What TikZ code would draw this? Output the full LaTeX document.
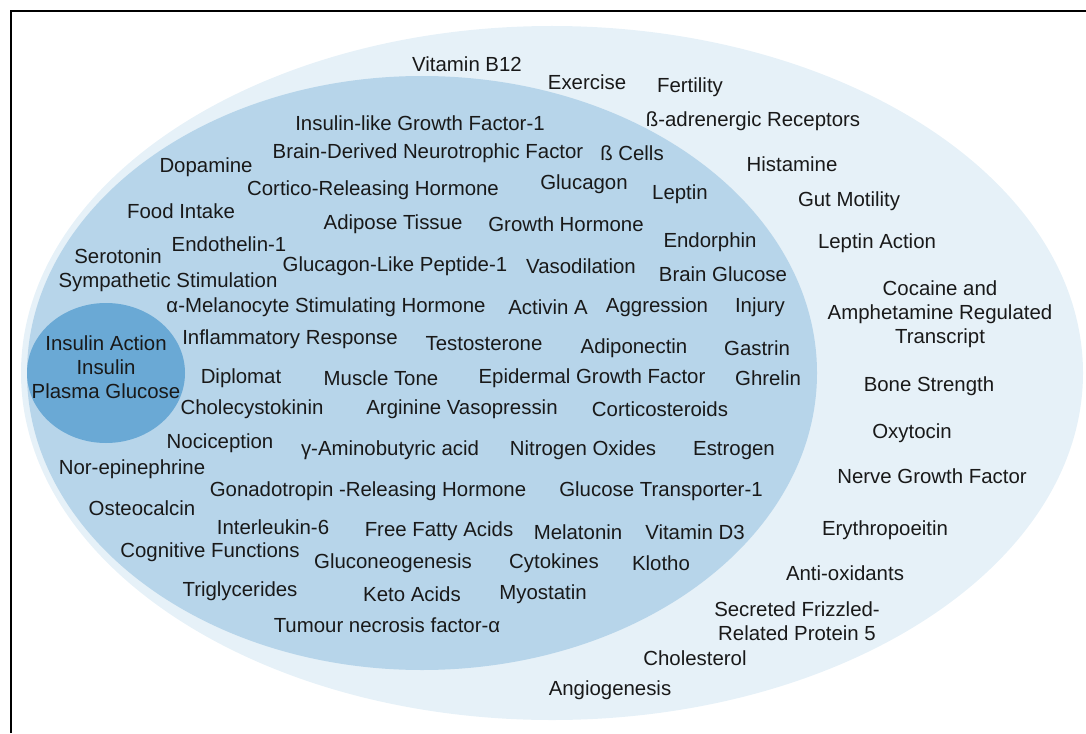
\documentclass[tikz,border=0pt]{standalone}
\usepackage{fontspec}
\setmainfont{Liberation Sans}
\definecolor{outerband}{HTML}{E6F1F8}
\definecolor{innerband}{HTML}{B7D5EA}
\definecolor{corecircle}{HTML}{6AA9D5}

\begin{document}
\begin{tikzpicture}[x=1pt, y=-1pt,
	term/.style={font=\fontsize{20.4}{24}\selectfont, inner sep=0pt, align=center, text=black!90, yshift=-1.5pt}]
			\useasboundingbox (0,0) rectangle (1086,733);
			\draw[line width=2pt] (11,733) |- (1086,11);
			% the three nested regions
			\fill[outerband] (552,373) ellipse [x radius=531, y radius=347];
			\fill[innerband] (422,373) ellipse [x radius=395, y radius=297];
			\fill[corecircle] (106,373) ellipse [x radius=79, y radius=70];
			\node[term](core) at (106,366){Insulin Action\\Insulin\\Plasma Glucose};
			% outer band
			\node[term](vitb) at (467,63){Vitamin B12};
			\node[term](exercise) at (587,81){Exercise};
			\node[term](fertility) at (690,86){Fertility};
			\node[term](betarec) at (753,120){ß-adrenergic Receptors};
			\node[term](histamine) at (792,163){Histamine};
			\node[term](gut) at (849,200){Gut Motility};
			\node[term](leptinact) at (877,242){Leptin Action};
			\node[term](cart) at (940,313){Cocaine and\\Amphetamine Regulated\\Transcript};
			\node[term](bone) at (929,385){Bone Strength};
			\node[term](oxytocin) at (912,432){Oxytocin};
			\node[term](ngf) at (932,475){Nerve Growth Factor};
			\node[term](epo) at (885,529){Erythropoeitin};
			\node[term](antiox) at (845,572){Anti-oxidants};
			\node[term](sfrp) at (797,620){Secreted Frizzled-\\Related Protein 5};
			\node[term](chol) at (695,657){Cholesterol};
			\node[term](angio) at (610,689){Angiogenesis};
			% inner band
			\node[term](igf) at (420,122){Insulin-like Growth Factor-1};
			\node[term](dopamine) at (206,166){Dopamine};
			\node[term](bdnf) at (428,152){Brain-Derived Neurotrophic Factor};
			\node[term](betacells) at (632,152){ß Cells};
			\node[term](crh) at (373,189){Cortico-Releasing Hormone};
			\node[term](glucagon) at (584,183){Glucagon};
			\node[term](leptin) at (680,193){Leptin};
			\node[term](food) at (181,210){Food Intake};
			\node[term](adipose) at (393,223){Adipose Tissue};
			\node[term](gh) at (566,223){Growth Hormone};
			\node[term](endorphin) at (710,241){Endorphin};
			\node[term](serotonin) at (118,255){Serotonin};
			\node[term](et1) at (229,243){Endothelin-1};
			\node[term](glp1) at (395,265){Glucagon-Like Peptide-1};
			\node[term](vaso) at (581,265){Vasodilation};
			\node[term](brainglc) at (723,273){Brain Glucose};
			\node[term](symp) at (168,281){Sympathetic Stimulation};
			\node[term](amsh) at (326,306){α-Melanocyte Stimulating Hormone};
			\node[term](activin) at (548,306){Activin A};
			\node[term](aggr) at (657,306){Aggression};
			\node[term](injury) at (760,306){Injury};
			\node[term](inflam) at (290,338){Inflammatory Response};
			\node[term](testo) at (484,342){Testosterone};
			\node[term](adipo) at (634,347){Adiponectin};
			\node[term](gastrin) at (757,347){Gastrin};
			\node[term](diplomat) at (241,377){Diplomat};
			\node[term](muscle) at (381,377){Muscle Tone};
			\node[term](egf) at (592,377){Epidermal Growth Factor};
			\node[term](ghrelin) at (768,377){Ghrelin};
			\node[term](cck) at (252,408){Cholecystokinin};
			\node[term](avp) at (462,408){Arginine Vasopressin};
			\node[term](cortico) at (660,408){Corticosteroids};
			\node[term](nocicep) at (220,442){Nociception};
			\node[term](gaba) at (390,449){γ-Aminobutyric acid};
			\node[term](nox) at (583,449){Nitrogen Oxides};
			\node[term](estrogen) at (734,449){Estrogen};
			\node[term](norepi) at (132,468){Nor-epinephrine};
			\node[term](gnrh) at (368,490){Gonadotropin -Releasing Hormone};
			\node[term](glut1) at (661,490){Glucose Transporter-1};
			\node[term](osteo) at (142,507){Osteocalcin};
			\node[term](il6) at (273,526){Interleukin-6};
			\node[term](ffa) at (439,530){Free Fatty Acids};
			\node[term](melatonin) at (578,531){Melatonin};
			\node[term](vitd) at (695,531){Vitamin D3};
			\node[term](cognit) at (210,551){Cognitive Functions};
			\node[term](gluconeo) at (393,562){Gluconeogenesis};
			\node[term](cytokines) at (554,562){Cytokines};
			\node[term](klotho) at (661,562){Klotho};
			\node[term](trigly) at (240,590){Triglycerides};
			\node[term](keto) at (412,593){Keto Acids};
			\node[term](myostatin) at (543,593){Myostatin};
			\node[term](tnf) at (387,624){Tumour necrosis factor-α};
			\end{tikzpicture}
\end{document}
